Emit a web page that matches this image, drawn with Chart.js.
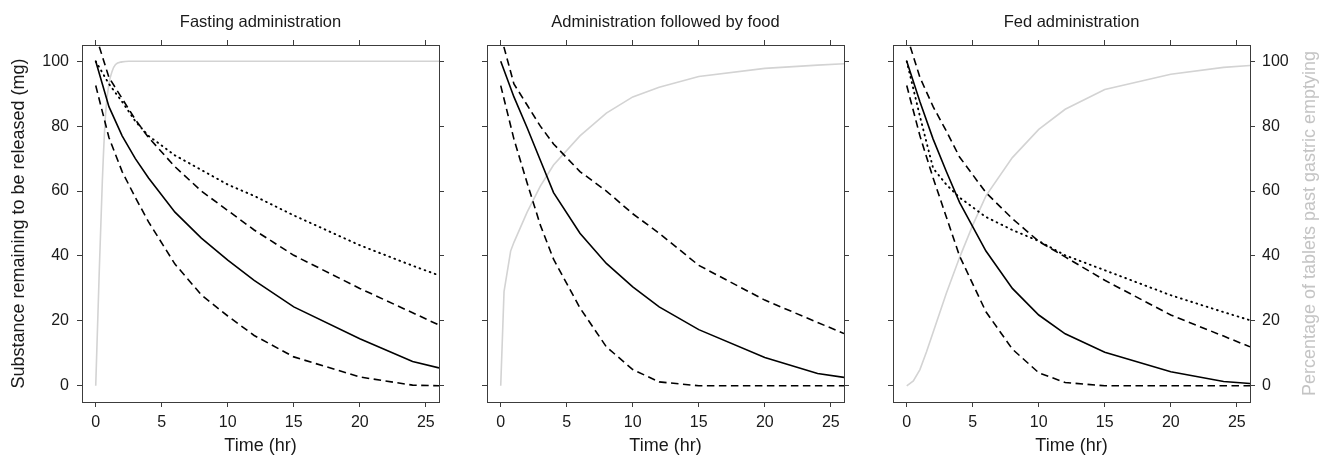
<!DOCTYPE html>
<html>
<head>
<meta charset="utf-8">
<script src="https://cdn.jsdelivr.net/npm/chart.js@4.4.1/dist/chart.umd.min.js"></script>
<style>
  html, body { margin: 0; padding: 0; background: #fff; }
  #wrap { position: relative; width: 1323px; height: 457px; overflow: hidden; }
  canvas { position: absolute; top: 0; }
</style>
</head>
<body>
<div id="wrap">
  <canvas id="fasting" width="512" height="457" style="left:0px"></canvas>
  <canvas id="food" width="512" height="457" style="left:405px"></canvas>
  <canvas id="fed" width="512" height="457" style="left:811px"></canvas>
</div>
<script>
// sampling times (hr) of the release curves
const hours = [0, 1, 2, 3, 4, 6, 8, 10, 12, 15, 20, 24, 26];

const xTicks = [0, 5, 10, 15, 20, 25];
const yTicks = [0, 20, 40, 60, 80, 100];

// Fasting administration (mg remaining)
const fastMean   = [100, 86, 77, 70, 64, 53.5, 45.5, 38.7, 32.5, 24.3, 14.5, 7.5, 5.5];
const fastUpper  = [108, 95, 88.5, 82, 76.5, 67.5, 60, 54, 48, 40.2, 30, 22.5, 18.7];
const fastLower  = [92.5, 76.5, 66, 58, 50.5, 37.5, 28, 21.5, 15.5, 8.9, 2.7, 0.2, 0];
const fastDotted = [100, 93, 87.5, 81.5, 77, 71, 66.5, 62, 58.5, 52.5, 43.3, 37, 34];
// gastric emptying (% of tablets)
const fastGastricT = [0, 0.25, 0.5, 0.75, 1, 1.25, 1.5, 2, 2.5, 26];
const fastGastric  = [0, 33, 63, 84, 93, 97, 99, 99.8, 100, 100];

// Administration followed by food
const foodMean  = [100, 89, 79.5, 69.5, 59.5, 47, 37.7, 30.5, 24.3, 17.3, 8.7, 3.8, 2.6];
const foodUpper = [108, 93, 86.5, 80, 74.5, 66, 60, 53, 47, 37.1, 26.4, 19.5, 16.1];
const foodLower = [92.5, 76, 62.5, 49.5, 39, 24, 12, 5, 1.2, 0, 0, 0, 0];
const foodGastricT = [0, 0.25, 0.75, 1, 2, 3, 4, 6, 8, 10, 12, 15, 20, 24, 26];
const foodGastric  = [0, 29, 41.5, 44.2, 53.5, 61.5, 68, 77, 84, 89, 92, 95.3, 97.8, 98.8, 99.2];

// Fed administration
const fedMean   = [100, 87.5, 76, 66, 56.5, 41.5, 30, 21.8, 16, 10.3, 4.3, 1.3, 0.7];
const fedUpper  = [108, 95, 86, 78.5, 70.5, 59.5, 51.5, 44.5, 39.7, 32.5, 21.8, 15.3, 12];
const fedLower  = [92.5, 77, 64, 52, 40, 22.8, 11.3, 4, 1, 0, 0, 0, 0];
const fedDotted = [100, 83, 67, 62, 58, 52, 48, 44.6, 40.2, 35.6, 27.9, 22.7, 20.2];
const fedGastricT = [0, 0.5, 1, 1.5, 2, 3, 4, 5, 6, 8, 10, 12, 15, 20, 24, 26];
const fedGastric  = [0, 1.5, 5, 10.5, 16.5, 28.5, 39.5, 49.5, 58.5, 70.3, 79, 85.2, 91.3, 96, 98.1, 98.7];

const FONT = "'Liberation Sans', Arial, Helvetica, sans-serif";
const AXIS = '#3c3c3c';
const TEXT = '#1a1a1a';
const GRAY = '#d3d3d3';

Chart.defaults.font.family = FONT;

function pts(xs, ys) {
    return xs.map((x, i) => ({ x: x, y: ys[i] }));
}

function blackLine(values, dash) {
    return {
        data: pts(hours, values),
        borderColor: '#000',
        borderWidth: 1.6,
        borderDash: dash || [],
        borderCapStyle: 'butt',
        pointRadius: 0,
        tension: 0,
        yAxisID: 'y'
    };
}

function dottedLine(values) {
    const ds = blackLine(values, [0.8, 4.6]);
    ds.borderWidth = 1.9;
    ds.borderCapStyle = 'round';
    return ds;
}

function grayLine(ts, values, smooth) {
    return {
        data: pts(ts, values),
        borderColor: GRAY,
        borderWidth: 1.6,
        pointRadius: 0,
        cubicInterpolationMode: smooth ? 'monotone' : 'default',
        tension: 0,
        yAxisID: 'y2'
    };
}

function fixedTicks(list) {
    return axis => { axis.ticks = list.map(v => ({ value: v })); };
}

const tickGrid = { drawOnChartArea: false, drawTicks: true, tickLength: 5, color: AXIS, tickWidth: 1 };
const boxBorder = { display: true, color: AXIS, width: 1 };

function makePanel(id, title, datasets, leftLabels, rightLabels, plugins) {
    return new Chart(document.getElementById(id), {
        type: 'line',
        data: { datasets: datasets },
        plugins: plugins || [],
        options: {
            responsive: false,
            animation: false,
            devicePixelRatio: 1,
            layout: { padding: 0 },
            plugins: { legend: { display: false }, tooltip: { enabled: false } },
            scales: {
                x: {
                    type: 'linear', axis: 'x', position: 'bottom', min: -1.04, max: 26,
                    afterBuildTicks: fixedTicks(xTicks),
                    afterFit: a => { a.height = 55; },
                    grid: tickGrid, border: boxBorder,
                    ticks: { color: TEXT, font: { size: 16 }, padding: 6, maxRotation: 0, autoSkip: false },
                    title: { display: true, text: 'Time (hr)', color: TEXT, font: { size: 18 }, padding: { top: 0, bottom: 0 } }
                },
                x2: {
                    type: 'linear', axis: 'x', position: 'top', min: -1.04, max: 26,
                    afterBuildTicks: fixedTicks(xTicks),
                    afterFit: a => { a.height = 45; },
                    grid: tickGrid, border: boxBorder,
                    ticks: { display: false },
                    title: { display: true, text: title, color: TEXT, font: { size: 16.5 }, padding: { top: 12.5, bottom: 0 } }
                },
                y: {
                    type: 'linear', axis: 'y', position: 'left', min: -5, max: 105,
                    afterBuildTicks: fixedTicks(yTicks),
                    afterFit: a => { a.width = 82; },
                    grid: tickGrid, border: boxBorder,
                    ticks: { display: leftLabels, color: TEXT, font: { size: 16 }, padding: 8 },
                    title: {
                        display: leftLabels, text: 'Substance remaining to be released (mg)',
                        color: TEXT, font: { size: 18 }, padding: { top: 8.7, bottom: 0 }
                    }
                },
                y2: {
                    type: 'linear', axis: 'y', position: 'right', min: -5, max: 105,
                    afterBuildTicks: fixedTicks(yTicks),
                    afterFit: a => { a.width = 73; },
                    grid: tickGrid, border: boxBorder,
                    ticks: { display: rightLabels, color: TEXT, font: { size: 16 }, padding: 7 }
                }
            }
        }
    });
}

// right axis title reads bottom-to-top, like the left one
const rightTitle = {
    id: 'rightTitle',
    afterDraw(chart) {
        const { ctx, chartArea } = chart;
        ctx.save();
        ctx.translate(chartArea.right + 60, (chartArea.top + chartArea.bottom) / 2);
        ctx.rotate(-Math.PI / 2);
        ctx.font = '18px ' + FONT;
        ctx.fillStyle = '#c4c4c4';
        ctx.textAlign = 'center';
        ctx.textBaseline = 'middle';
        ctx.fillText('Percentage of tablets past gastric emptying', 0, 0);
        ctx.restore();
    }
};

makePanel('fasting', 'Fasting administration', [
    blackLine(fastMean),
    blackLine(fastUpper, [7.5, 4.5]),
    blackLine(fastLower, [7.5, 4.5]),
    dottedLine(fastDotted),
    grayLine(fastGastricT, fastGastric, true)
], true, false);

makePanel('food', 'Administration followed by food', [
    blackLine(foodMean),
    blackLine(foodUpper, [7.5, 4.5]),
    blackLine(foodLower, [7.5, 4.5]),
    grayLine(foodGastricT, foodGastric, false)
], false, false);

makePanel('fed', 'Fed administration', [
    blackLine(fedMean),
    blackLine(fedUpper, [7.5, 4.5]),
    blackLine(fedLower, [7.5, 4.5]),
    dottedLine(fedDotted),
    grayLine(fedGastricT, fedGastric, false)
], false, true, [rightTitle]);
</script>
</body>
</html>
